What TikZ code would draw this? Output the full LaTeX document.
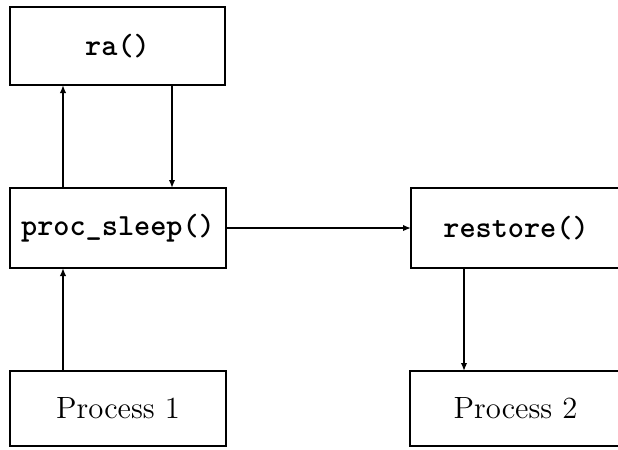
\documentclass[tikz,border=0pt]{standalone}
\usetikzlibrary{arrows.meta}
\begin{document}
\begin{tikzpicture}[x=0.4pt,y=-0.4pt,
  blk/.style={draw,line width=0.8pt,inner sep=0pt,outer sep=0pt,
    font=\fontsize{12.3}{15}\selectfont},
  code/.style={blk,font=\fontsize{12.3}{15}\selectfont\ttfamily\bfseries},
  arr/.style={line width=0.8pt,-{Latex[length=3.2pt,width=2.6pt]}}]
  \useasboundingbox (0,0) rectangle (618,449);

  % call-chain boxes
  \node[code,minimum width=86pt,minimum height=31.2pt] (ra) at (117.5,46) {ra()};
  \node[code,minimum width=86.4pt,minimum height=32pt] (ps) at (118,228) {proc\_sleep()};
  \node[code,minimum width=84pt,minimum height=32pt] (rs) at (516,228) {restore()};
  \node[blk,minimum width=86.4pt,minimum height=30pt] (p1) at (118,408.5) {Process 1};
  \node[blk,minimum width=84.4pt,minimum height=30pt] (p2) at (515.5,408.5) {Process 2};

  % vertical connector columns
  \coordinate (c1) at (63,0);
  \coordinate (c2) at (172,0);
  \coordinate (c3) at (464,0);

  \draw[arr] (ps.north -| c1) -- (ra.south -| c1);
  \draw[arr] (ra.south -| c2) -- (ps.north -| c2);
  \draw[arr] (p1.north -| c1) -- (ps.south -| c1);
  \draw[arr] (ps.east) -- (rs.west);
  \draw[arr] (rs.south -| c3) -- (p2.north -| c3);
\end{tikzpicture}
\end{document}
